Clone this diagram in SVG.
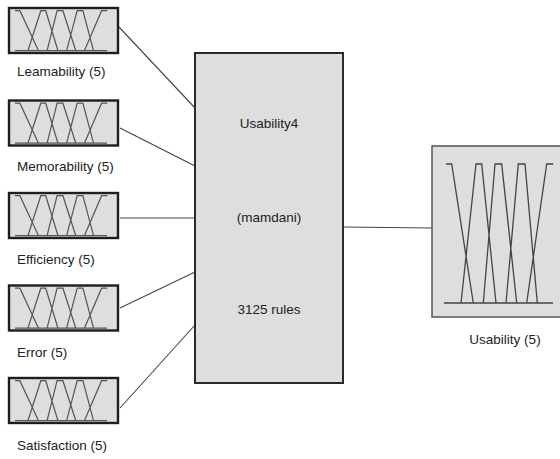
<svg xmlns="http://www.w3.org/2000/svg" width="560" height="459" viewBox="0 0 560 459">
<style>
.in{fill:#dedede;stroke:#1e1e1e;stroke-width:2.4}
.sys{fill:#dedede;stroke:#2a2a2a;stroke-width:2}
.out{fill:#dedede;stroke:#555;stroke-width:1.5}
.mf{fill:none;stroke:#555;stroke-width:1.2}
.mfo{fill:none;stroke:#444;stroke-width:1.3}
.conn{fill:none;stroke:#444;stroke-width:1.1}
text{font-family:"Liberation Sans",Arial,sans-serif;font-size:13.5px;fill:#222}
.c{text-anchor:middle}
</style>
<defs>
<g id="mfs">
<path class="mf" d="M15,10.7 H19.9 L38.5,50.7 M27.9,50.7 L40.8,10.7 H45.7 L58,50.7 M47.1,50.7 L57.1,10.7 H62.9 L75.8,50.7 M66.6,50.7 L77.2,10.7 H82.9 L93.5,50.7 M84.4,50.7 L101.6,10.7 H107.3 M15,50.7 H107"/>
</g>
</defs>
<g id="connectors">
<line class="conn" x1="119" y1="27" x2="195" y2="108"/>
<line class="conn" x1="120" y1="128" x2="195" y2="166"/>
<line class="conn" x1="120" y1="218" x2="195" y2="218"/>
<line class="conn" x1="120" y1="308" x2="195" y2="272"/>
<line class="conn" x1="120" y1="408" x2="195" y2="325"/>
<line class="conn" x1="343" y1="227" x2="432" y2="228"/>
</g>
<g id="learnability">
<rect class="in" x="9" y="8" width="109" height="45"/>
<use href="#mfs"/>
<text x="17" y="76">Leamability (5)</text>
</g>
<g id="memorability">
<rect class="in" x="9" y="100.5" width="109" height="45"/>
<use href="#mfs" transform="translate(0,92.5)"/>
<text x="17" y="171">Memorability (5)</text>
</g>
<g id="efficiency">
<rect class="in" x="9" y="193" width="109" height="45"/>
<use href="#mfs" transform="translate(0,185)"/>
<text x="17" y="264">Efficiency (5)</text>
</g>
<g id="error">
<rect class="in" x="9" y="285.5" width="109" height="45"/>
<use href="#mfs" transform="translate(0,277.5)"/>
<text x="17" y="357">Error (5)</text>
</g>
<g id="satisfaction">
<rect class="in" x="9" y="378" width="109" height="45"/>
<use href="#mfs" transform="translate(0,370)"/>
<text x="17" y="450">Satisfaction (5)</text>
</g>
<g id="system">
<rect class="sys" x="195" y="53" width="148" height="330"/>
<text class="c" x="269" y="128">Usability4</text>
<text class="c" x="269" y="222">(mamdani)</text>
<text class="c" x="269" y="314">3125 rules</text>
</g>
<g id="usability">
<rect class="out" x="432" y="146" width="132" height="171"/>
<path class="mfo" d="M446,164 H451.7 L473.3,303 M461,303 L476,164 H481.7 L496,303 M483.3,303 L495,164 H501.7 L516.7,303 M506,303 L518.3,164 H525 L537.3,303 M526.7,303 L546.7,164 H553.3 M444,303 H553"/>
<text class="c" x="505" y="344">Usability (5)</text>
</g>
</svg>
